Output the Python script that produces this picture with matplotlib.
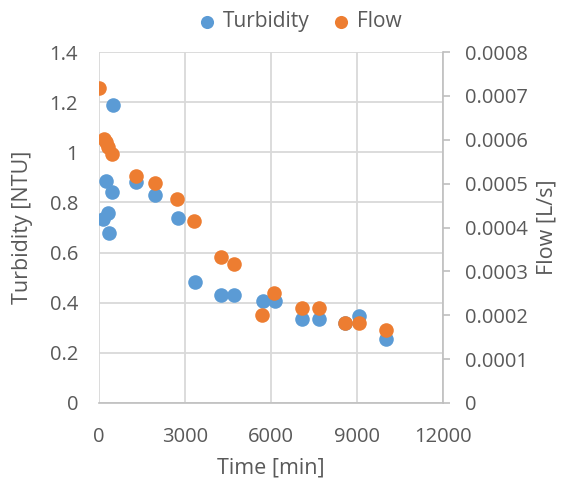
import matplotlib
matplotlib.use("Agg")
import matplotlib.pyplot as plt

turb_time = [500, 233, 440, 325, 150, 360, 1280, 1950, 2745, 3350, 4245, 4720, 5710, 6140, 7090, 7685, 8580, 9080, 10000]
turbidity = [1.19, 0.887, 0.843, 0.759, 0.733, 0.677, 0.883, 0.83, 0.737, 0.484, 0.43, 0.43, 0.407, 0.408, 0.336, 0.336, 0.318, 0.347, 0.255]

flow_time = [10, 175, 250, 325, 440, 1280, 1950, 2730, 3325, 4240, 4710, 5670, 6100, 7090, 7685, 8580, 9080, 10000]
flow = [0.000717, 0.000601, 0.000595, 0.000584, 0.000567, 0.000517, 0.000501, 0.000466, 0.000415, 0.000333, 0.000317, 0.000201, 0.000250, 0.000217, 0.000217, 0.000183, 0.000183, 0.000166]

x_ticks = [0, 3000, 6000, 9000, 12000]
y_ticks = [0, 0.2, 0.4, 0.6, 0.8, 1, 1.2, 1.4]
y2_ticks = [0, 0.0001, 0.0002, 0.0003, 0.0004, 0.0005, 0.0006, 0.0007, 0.0008]

BLUE = "#5B9BD5"
ORANGE = "#ED7D31"
TXT = "#595959"
GRID = "#D9D9D9"

plt.rcParams['font.family'] = ['Open Sans', 'DejaVu Sans']

fig = plt.figure(figsize=(5.62, 4.88), dpi=100)
ax = fig.add_axes([99/562, 1-403/488, (443-99)/562, (403-52)/488])
ax2 = ax.twinx()

ax.set_xlim(0, 12000)
ax.set_ylim(0, 1.4)
ax2.set_ylim(0, 0.0008)
ax.set_xticks(x_ticks)
ax.set_yticks(y_ticks)
ax2.set_yticks(y2_ticks)
ax.set_xticklabels([str(v) for v in x_ticks])
ax.set_yticklabels(["0", "0.2", "0.4", "0.6", "0.8", "1", "1.2", "1.4"])
ax2.set_yticklabels(["0", "0.0001", "0.0002", "0.0003", "0.0004", "0.0005", "0.0006", "0.0007", "0.0008"])

ax.grid(True, color=GRID, linewidth=1.3)
ax.set_axisbelow(True)
for a in (ax, ax2):
    for s in a.spines.values():
        s.set_visible(False)
ax.spines['bottom'].set_visible(True)
ax.spines['bottom'].set_color("#BFBFBF")
ax.spines['bottom'].set_linewidth(1.2)
ax2.spines['right'].set_visible(True)
ax2.spines['right'].set_color("#BFBFBF")
ax2.spines['right'].set_linewidth(1.2)

FS_T = 14.5
ax.tick_params(axis='x', colors=TXT, labelsize=FS_T, length=0, pad=17)
ax.tick_params(axis='y', colors=TXT, labelsize=FS_T, length=0, pad=15)
ax2.tick_params(axis='y', colors=TXT, labelsize=FS_T, length=5, width=1.2, color="#BFBFBF", direction='out', pad=11)

s1 = ax.scatter(turb_time, turbidity, s=110, color=BLUE, zorder=3, linewidths=0, label="Turbidity")
s2 = ax2.scatter(flow_time, flow, s=110, color=ORANGE, zorder=3, linewidths=0, label="Flow")

FS_L = 15.5
ax.set_xlabel("Time [min]", color=TXT, fontsize=FS_L, labelpad=8)
ax.set_ylabel("Turbidity [NTU]", color=TXT, fontsize=FS_L, labelpad=12)
ax2.set_ylabel("Flow [L/s]", color=TXT, fontsize=FS_L, labelpad=6)

fig.legend(handles=[s1, s2], loc='upper center', bbox_to_anchor=(0.534, 1.015), ncol=2, frameon=False,
           fontsize=15, labelcolor=TXT, handlelength=0.8, handletextpad=0.35, columnspacing=1.1,
           markerscale=0.9)

fig.savefig("out.png", dpi=100)
